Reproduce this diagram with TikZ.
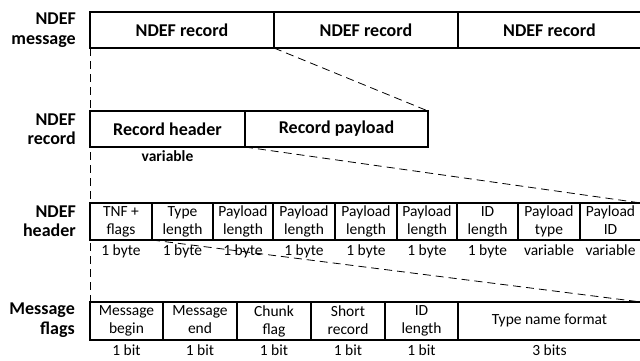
\documentclass[tikz,border=0pt]{standalone}
\usepackage{fontspec}
\setmainfont{Carlito}
\tikzset{
  fieldbox/.style={draw,line width=1.5pt,inner sep=0pt,outer sep=0pt,anchor=north west,align=center},
  bigbox/.style={fieldbox,minimum height=36,font=\bfseries\fontsize{18}{20}\selectfont},
  smallbox/.style={fieldbox,minimum height=37,font=\fontsize{15.5}{18}\selectfont},
  sizenote/.style={anchor=base,inner sep=0pt,font=\fontsize{15.5}{17}\selectfont},
  rowlabel/.style={anchor=east,align=right,inner sep=0pt,font=\bfseries\fontsize{18}{19.5}\selectfont},
  guide/.style={line width=.8pt,dash pattern=on 8pt off 5pt}
}
\begin{document}
\begin{tikzpicture}[x=1pt,y=-1pt]
\useasboundingbox (0,0) rectangle (640,360);
\clip (0,0) rectangle (640,360);
% row labels
\node[rowlabel] (lmsg) at (76,30) {NDEF\\message};
\node[rowlabel] (lrec) at (76,129) {NDEF\\record};
\node[rowlabel] (lhdr) at (76,221) {NDEF\\header};
\node[rowlabel] (lflg) at (75,320) {Message\\flags};
% NDEF message
\foreach \n/\l/\r in {m1/90/274,m2/274/458,m3/458/641}
  \node[bigbox,minimum width=\r-\l] (\n) at (\l,12) {NDEF record};
% NDEF record
\node[bigbox,minimum width=155] (r1) at (90,111) {Record header};
\node[bigbox,minimum width=183] (r2) at (245,111) {Record payload};
\node[sizenote] (r1-size) at ([yshift=-14pt]r1.south) {\bfseries variable};
% NDEF header
\foreach \n/\l/\r/\t/\s in {h1/90/152/{TNF +\\flags}/1 byte,h2/152/213/{Type\\length}/1 byte,
    h3/213/273/{Payload\\length}/1 byte,h4/273/335/{Payload\\length}/1 byte,
    h5/335/397/{Payload\\length}/1 byte,h6/397/457/{Payload\\length}/1 byte,
    h7/457/518/{ID\\length}/1 byte,h8/518/580/{Payload\\type}/variable,
    h9/580/641/{Payload\\ID}/variable}
{
  \node[smallbox,minimum width=\r-\l] (\n) at (\l,203) {\t\vphantom{g}};
  \node[sizenote] (\n-size) at ([yshift=-15pt]\n.south) {\s};
}
% message flags
\foreach \n/\l/\r/\t/\s in {f1/90/163/{Message\\begin}/1 bit,f2/163/237/{Message\\end}/1 bit,
    f3/237/311/{Chunk\\flag}/1 bit,f4/311/385/{Short\\record}/1 bit,
    f5/385/458/{ID\\length}/1 bit,f6/458/641/{Type name format}/3 bits}
{
  \node[smallbox,minimum width=\r-\l,minimum height=38] (\n) at (\l,302) {\t\vphantom{g}};
  \node[sizenote] (\n-size) at ([yshift=-15pt]\n.south) {\s};
}
% zoom guides
\draw[guide] (m1.south west) -- (f1.north west);
\draw[guide] (m1.south east) -- (r2.north east);
\draw[guide] (r1.south east) -- (h9.north east);
\draw[guide] (h1.south east) -- (f6.north east);
\end{tikzpicture}
\end{document}
